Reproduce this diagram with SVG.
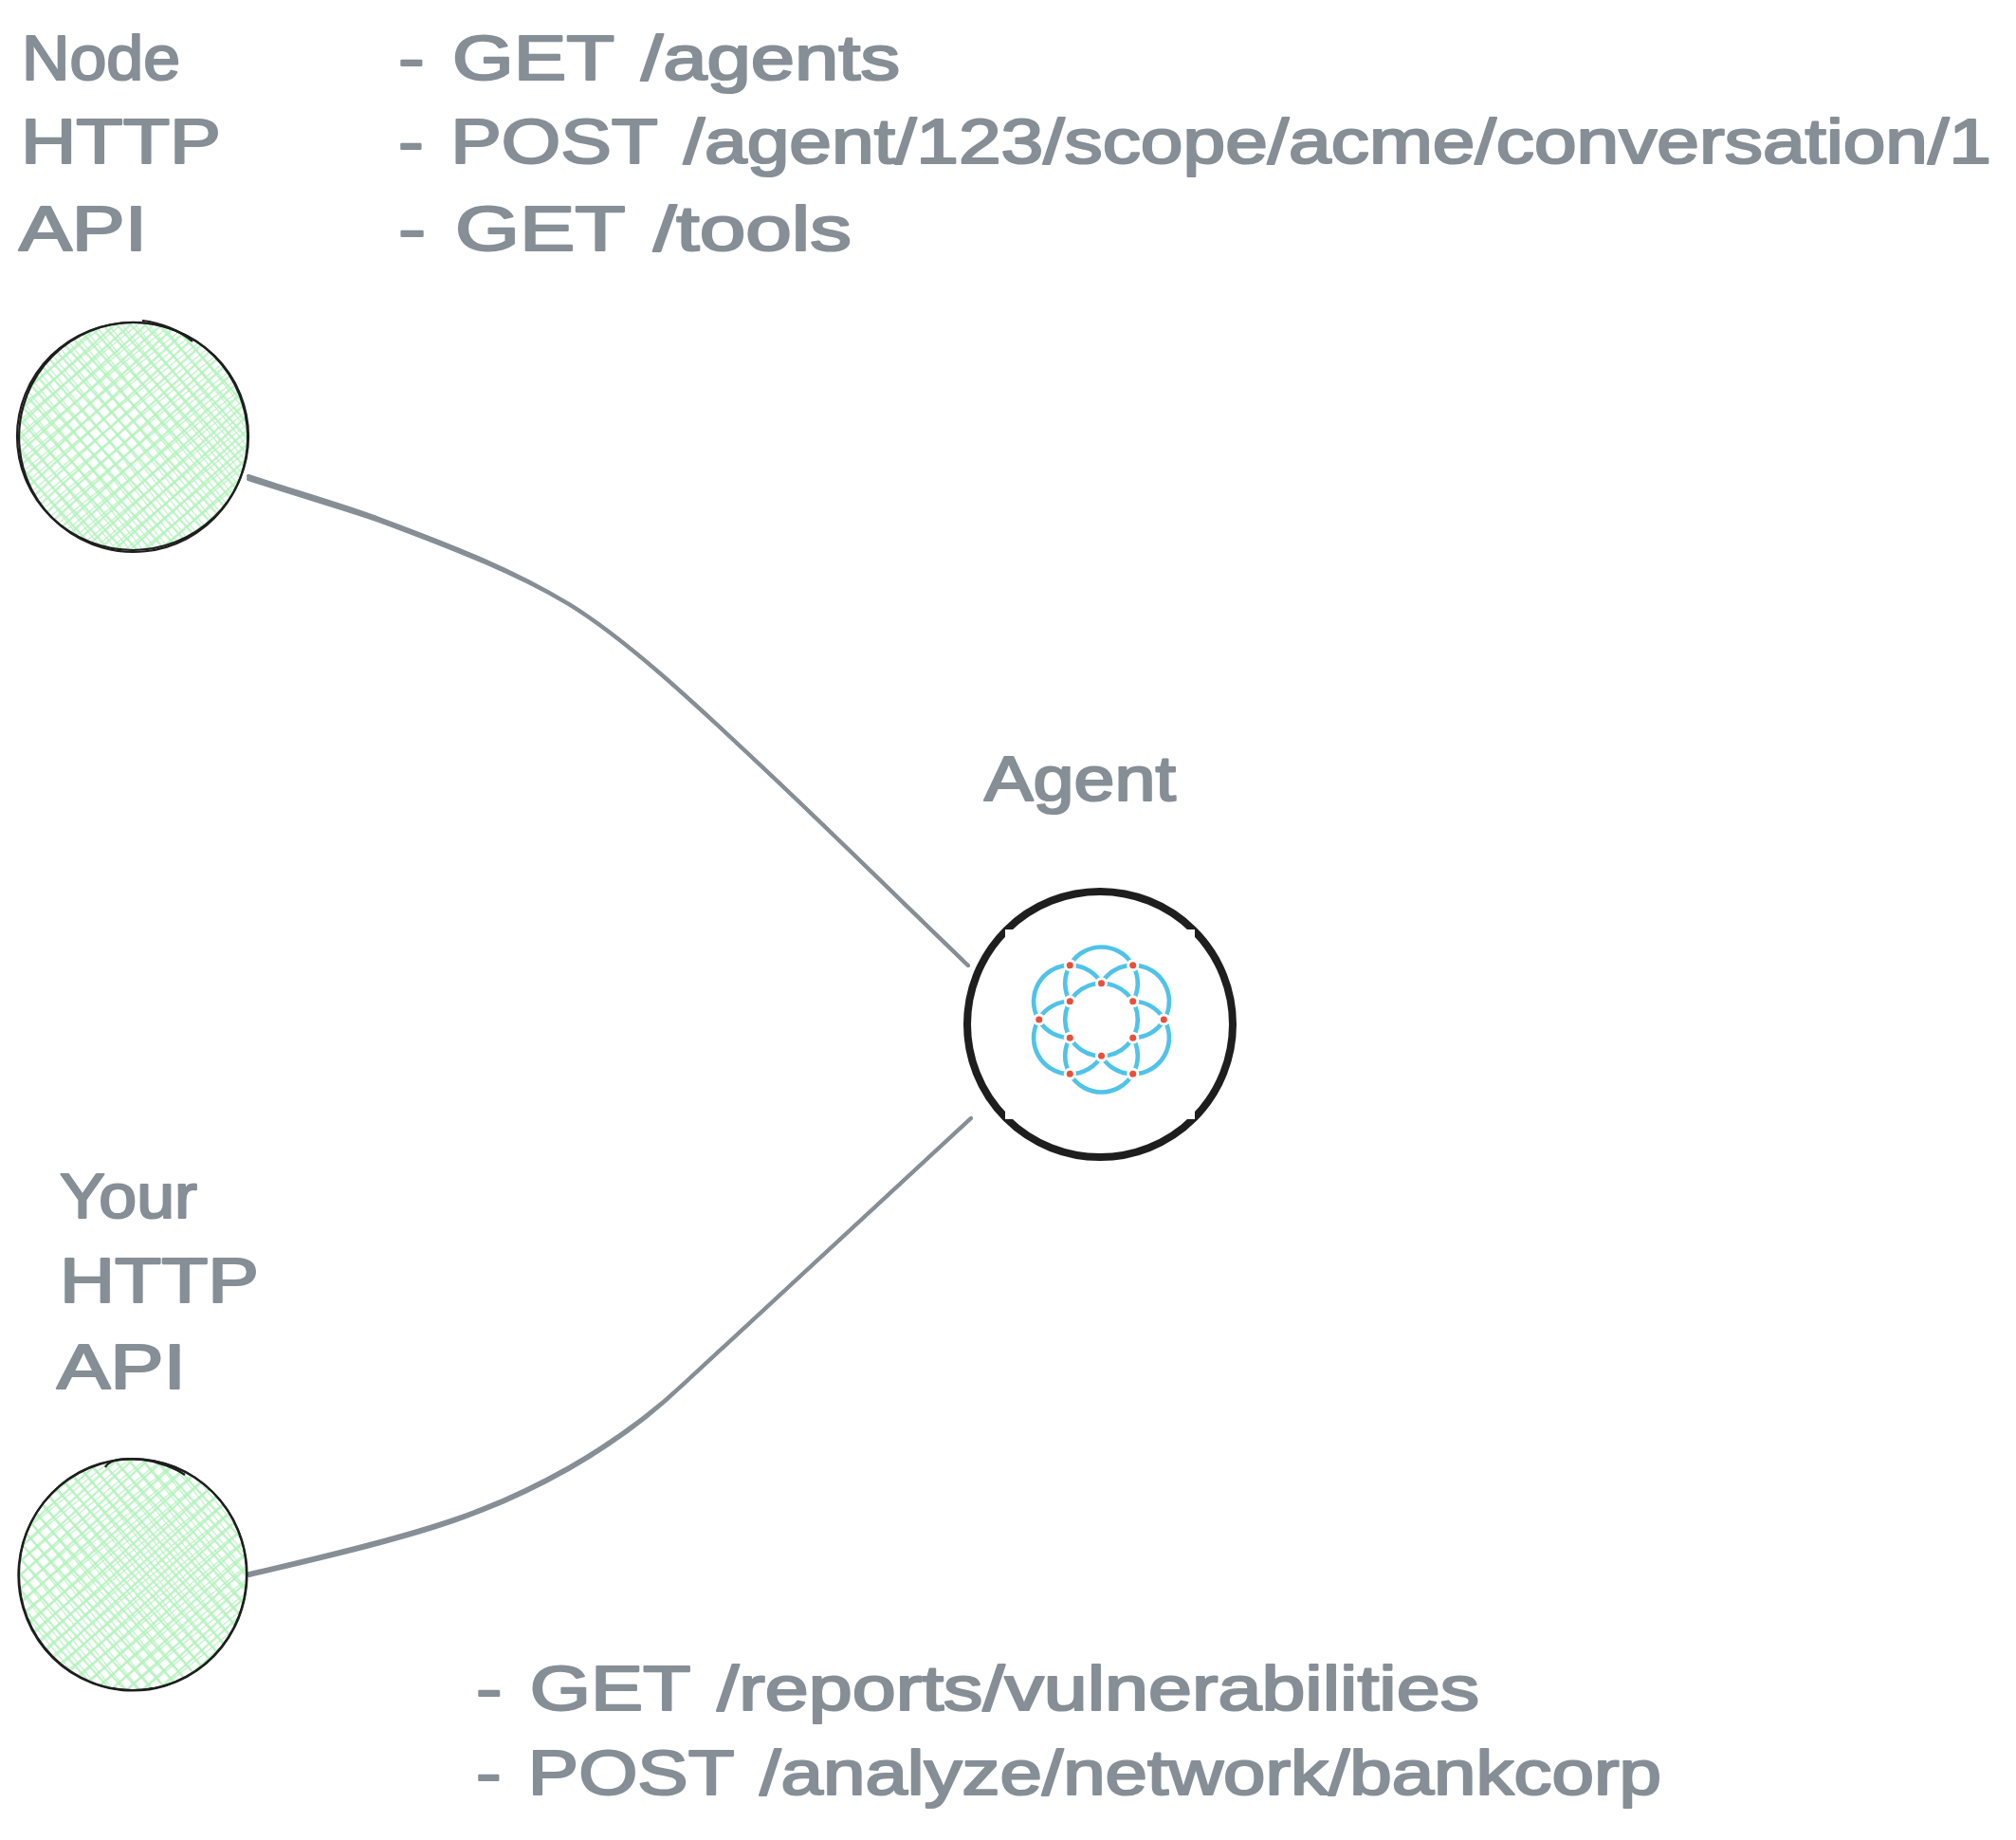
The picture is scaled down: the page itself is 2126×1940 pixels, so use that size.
<svg xmlns="http://www.w3.org/2000/svg" width="2126" height="1940" viewBox="0 0 2126 1940">
<style>
.t{font-family:"Liberation Sans","Noto Sans",sans-serif;font-size:66px;fill:#868e96;stroke:#868e96;stroke-width:2.2;stroke-linejoin:round;word-spacing:5px}
.o{fill:none;stroke:#1e1e1e;stroke-width:2.2}
.c{fill:none;stroke:#868e96;stroke-width:4;stroke-linecap:round}
.a{fill:none;stroke:#4fc3e8;stroke-width:4.6}
.h{fill:#fff}
.r{fill:#e8503a}
</style>
<defs>
<pattern id="h1" width="11" height="11" patternUnits="userSpaceOnUse" patternTransform="rotate(-42)">
<path d="M0 5.5H11M5.5 0V11" stroke="#b2f2bb" stroke-width="2" fill="none"/>
</pattern>
<pattern id="h2" width="11" height="11" patternUnits="userSpaceOnUse" patternTransform="rotate(-39)">
<path d="M0 5.5H11M5.5 0V11" stroke="#b2f2bb" stroke-width="1" fill="none"/>
</pattern>
<path id="petal" d="M1194.7 1055.85A38.3 38.3 0 1 0 1128.3 1055.85"/>
</defs>
<rect width="2126" height="1940" fill="#fff"/>
<g id="connectors">
<path class="c" d="M262 502C310 518 360 532 400 547C470 573 540 600 600 637C660 674 730 739 800 805C880 880 950 950 1021 1018"/>
<path class="c" d="M262 505C310 521 360 535 400 549C470 575 540 602 600 637C660 674 730 739 800 805C880 880 950 950 1021 1018"/>
<path class="c" d="M263 1659C340 1641 440 1617 500 1594C535 1581 568 1565 600 1547C640 1524 682 1495 720 1460L1024 1179"/>
<path class="c" d="M263 1661C340 1643 440 1620 500 1596C535 1583 568 1567 600 1549C640 1526 682 1497 720 1460L1024 1179"/>
</g>
<g id="node-http-api">
<ellipse cx="140" cy="460" rx="121" ry="120" fill="url(#h1)"/>
<ellipse cx="140" cy="460" rx="121" ry="120" fill="url(#h2)"/>
<ellipse class="o" cx="140" cy="460" rx="122" ry="120"/>
<ellipse class="o" cx="140.5" cy="461" rx="120.5" ry="121" transform="rotate(-6 140 460)"/>
<path class="o" d="M150 338C170 340 190 349 203 360"/>
</g>
<g id="node-your-api">
<ellipse cx="140" cy="1660" rx="119" ry="122" fill="url(#h1)"/>
<ellipse cx="140" cy="1660" rx="119" ry="122" fill="url(#h2)"/>
<ellipse class="o" cx="140" cy="1660" rx="120" ry="122"/>
<ellipse class="o" cx="140" cy="1660.5" rx="120.5" ry="122" transform="rotate(5 140 1660)"/>
<path class="o" d="M111 1547C116 1538 132 1537 150 1539C167 1541 185 1548 195 1555"/>
</g>
<g id="node-agent">
<circle cx="1160" cy="1080" r="140" fill="#fff" stroke="#1e1e1e" stroke-width="8"/>
<rect x="1060" y="980" width="200" height="200" fill="#fff"/>
<g class="a">
<circle cx="1161.5" cy="1075" r="38.3"/>
<use href="#petal"/>
<use href="#petal" transform="rotate(60 1161.5 1075)"/>
<use href="#petal" transform="rotate(120 1161.5 1075)"/>
<use href="#petal" transform="rotate(180 1161.5 1075)"/>
<use href="#petal" transform="rotate(240 1161.5 1075)"/>
<use href="#petal" transform="rotate(300 1161.5 1075)"/>
</g>
<g class="h">
<circle cx="1161.5" cy="1036.7" r="6.5"/><circle cx="1194.7" cy="1055.85" r="6.5"/><circle cx="1194.7" cy="1094.15" r="6.5"/><circle cx="1161.5" cy="1113.3" r="6.5"/><circle cx="1128.3" cy="1094.15" r="6.5"/><circle cx="1128.3" cy="1055.85" r="6.5"/><circle cx="1128.3" cy="1017.7" r="6.5"/><circle cx="1194.7" cy="1017.7" r="6.5"/><circle cx="1095.7" cy="1075" r="6.5"/><circle cx="1227.3" cy="1075" r="6.5"/><circle cx="1128.3" cy="1132.3" r="6.5"/><circle cx="1194.7" cy="1132.3" r="6.5"/>
</g>
<g class="r">
<circle cx="1161.5" cy="1036.7" r="3.5"/><circle cx="1194.7" cy="1055.85" r="3.5"/><circle cx="1194.7" cy="1094.15" r="3.5"/><circle cx="1161.5" cy="1113.3" r="3.5"/><circle cx="1128.3" cy="1094.15" r="3.5"/><circle cx="1128.3" cy="1055.85" r="3.5"/><circle cx="1128.3" cy="1017.7" r="3.5"/><circle cx="1194.7" cy="1017.7" r="3.5"/><circle cx="1095.7" cy="1075" r="3.5"/><circle cx="1227.3" cy="1075" r="3.5"/><circle cx="1128.3" cy="1132.3" r="3.5"/><circle cx="1194.7" cy="1132.3" r="3.5"/>
</g>
</g>
<g id="labels">
<text class="t" x="23" y="84" textLength="167" lengthAdjust="spacingAndGlyphs">Node</text>
<text class="t" x="22" y="172" textLength="211" lengthAdjust="spacingAndGlyphs">HTTP</text>
<text class="t" x="20" y="264" textLength="135" lengthAdjust="spacingAndGlyphs">API</text>
<text class="t" x="420" y="84" textLength="529" lengthAdjust="spacingAndGlyphs">- GET /agents</text>
<text class="t" x="420" y="172" textLength="1680" lengthAdjust="spacingAndGlyphs">- POST /agent/123/scope/acme/conversation/1</text>
<text class="t" x="420" y="264" textLength="478" lengthAdjust="spacingAndGlyphs">- GET /tools</text>
<text class="t" x="1038" y="844" textLength="202" lengthAdjust="spacingAndGlyphs">Agent</text>
<text class="t" x="63" y="1284" textLength="145" lengthAdjust="spacingAndGlyphs">Your</text>
<text class="t" x="63" y="1373" textLength="210" lengthAdjust="spacingAndGlyphs">HTTP</text>
<text class="t" x="60" y="1464" textLength="136" lengthAdjust="spacingAndGlyphs">API</text>
<text class="t" x="502" y="1803" textLength="1058" lengthAdjust="spacingAndGlyphs">- GET /reports/vulnerabilities</text>
<text class="t" x="502" y="1892" textLength="1250" lengthAdjust="spacingAndGlyphs">- POST /analyze/network/bankcorp</text>
</g>
</svg>
